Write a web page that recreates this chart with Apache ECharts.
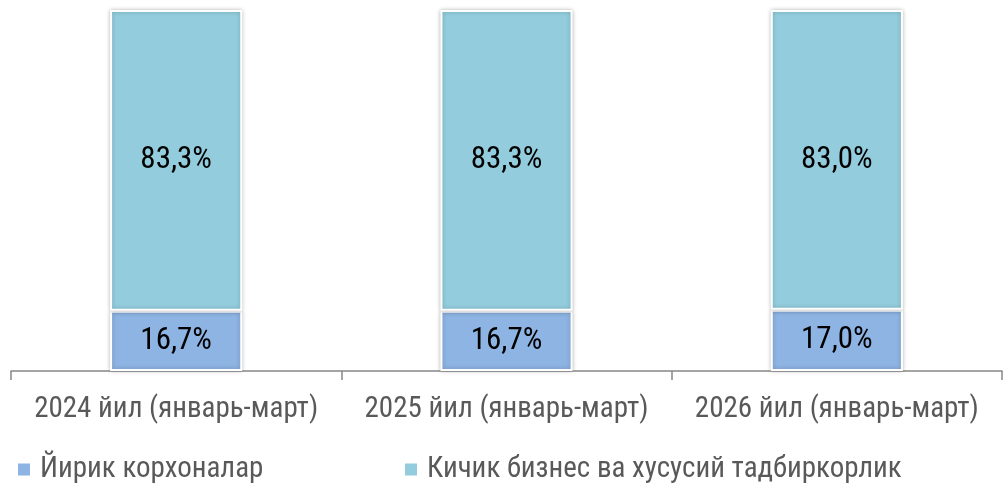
<!DOCTYPE html>
<html><head><meta charset="utf-8">
<script src="https://cdn.jsdelivr.net/npm/echarts@6/dist/echarts.min.js"></script>
<style>html,body{margin:0;padding:0;background:#fff}#c{width:1003px;height:491px}</style>
</head><body><div id="c"></div>
<script>
const categories = ['2024 йил (январь-март)', '2025 йил (январь-март)', '2026 йил (январь-март)'];
const seriesNames = ['Йирик корхоналар', 'Кичик бизнес ва хусусий тадбиркорлик'];
const large = [16.7, 16.7, 17.0];
const small = [83.3, 83.3, 83.0];
const colors = ['#8EB4E3', '#93CDDD'];
const FONT = "'Roboto Condensed', Roboto, sans-serif";

const chart = echarts.init(document.getElementById('c'));
const lbl = {
  show: true, position: 'inside', fontSize: 31, color: '#000', fontFamily: FONT,
  formatter: p => p.value.toFixed(1).replace('.', ',') + '%'
};
const itemStyle = c => ({ color: c, borderColor: '#fff', borderWidth: 2, shadowBlur: 4, shadowColor: 'rgba(0,0,0,0.25)' });
const legText = { fontSize: 29, color: '#595959', fontFamily: FONT, padding: [0, 0, 0, 5] };
const legItem = { borderWidth: 0, shadowBlur: 0, shadowColor: 'transparent' };
chart.setOption({
  animation: false,
  grid: { left: 11, right: 1, top: 10, bottom: 120 },
  legend: [
    { data: [seriesNames[0]], left: 18, top: 455, padding: 0, itemWidth: 12, itemHeight: 12, icon: 'rect', itemStyle: legItem, textStyle: legText },
    { data: [seriesNames[1]], left: 405, top: 455, padding: 0, itemWidth: 12, itemHeight: 12, icon: 'rect', itemStyle: legItem, textStyle: legText }
  ],
  xAxis: {
    type: 'category', data: categories, boundaryGap: true,
    axisLine: { lineStyle: { color: '#888', width: 1.5 } },
    axisTick: { show: true, length: 9, lineStyle: { color: '#888', width: 1.5 } },
    axisLabel: { fontSize: 29, color: '#595959', fontFamily: FONT, margin: 24, interval: 0 }
  },
  yAxis: { type: 'value', min: 0, max: 100, show: false, splitLine: { show: false } },
  series: [
    { name: seriesNames[0], type: 'bar', stack: 's', data: large, barWidth: '40%', itemStyle: itemStyle(colors[0]), label: lbl },
    { name: seriesNames[1], type: 'bar', stack: 's', data: small, barWidth: '40%', itemStyle: itemStyle(colors[1]), label: lbl }
  ]
});
</script></body></html>
